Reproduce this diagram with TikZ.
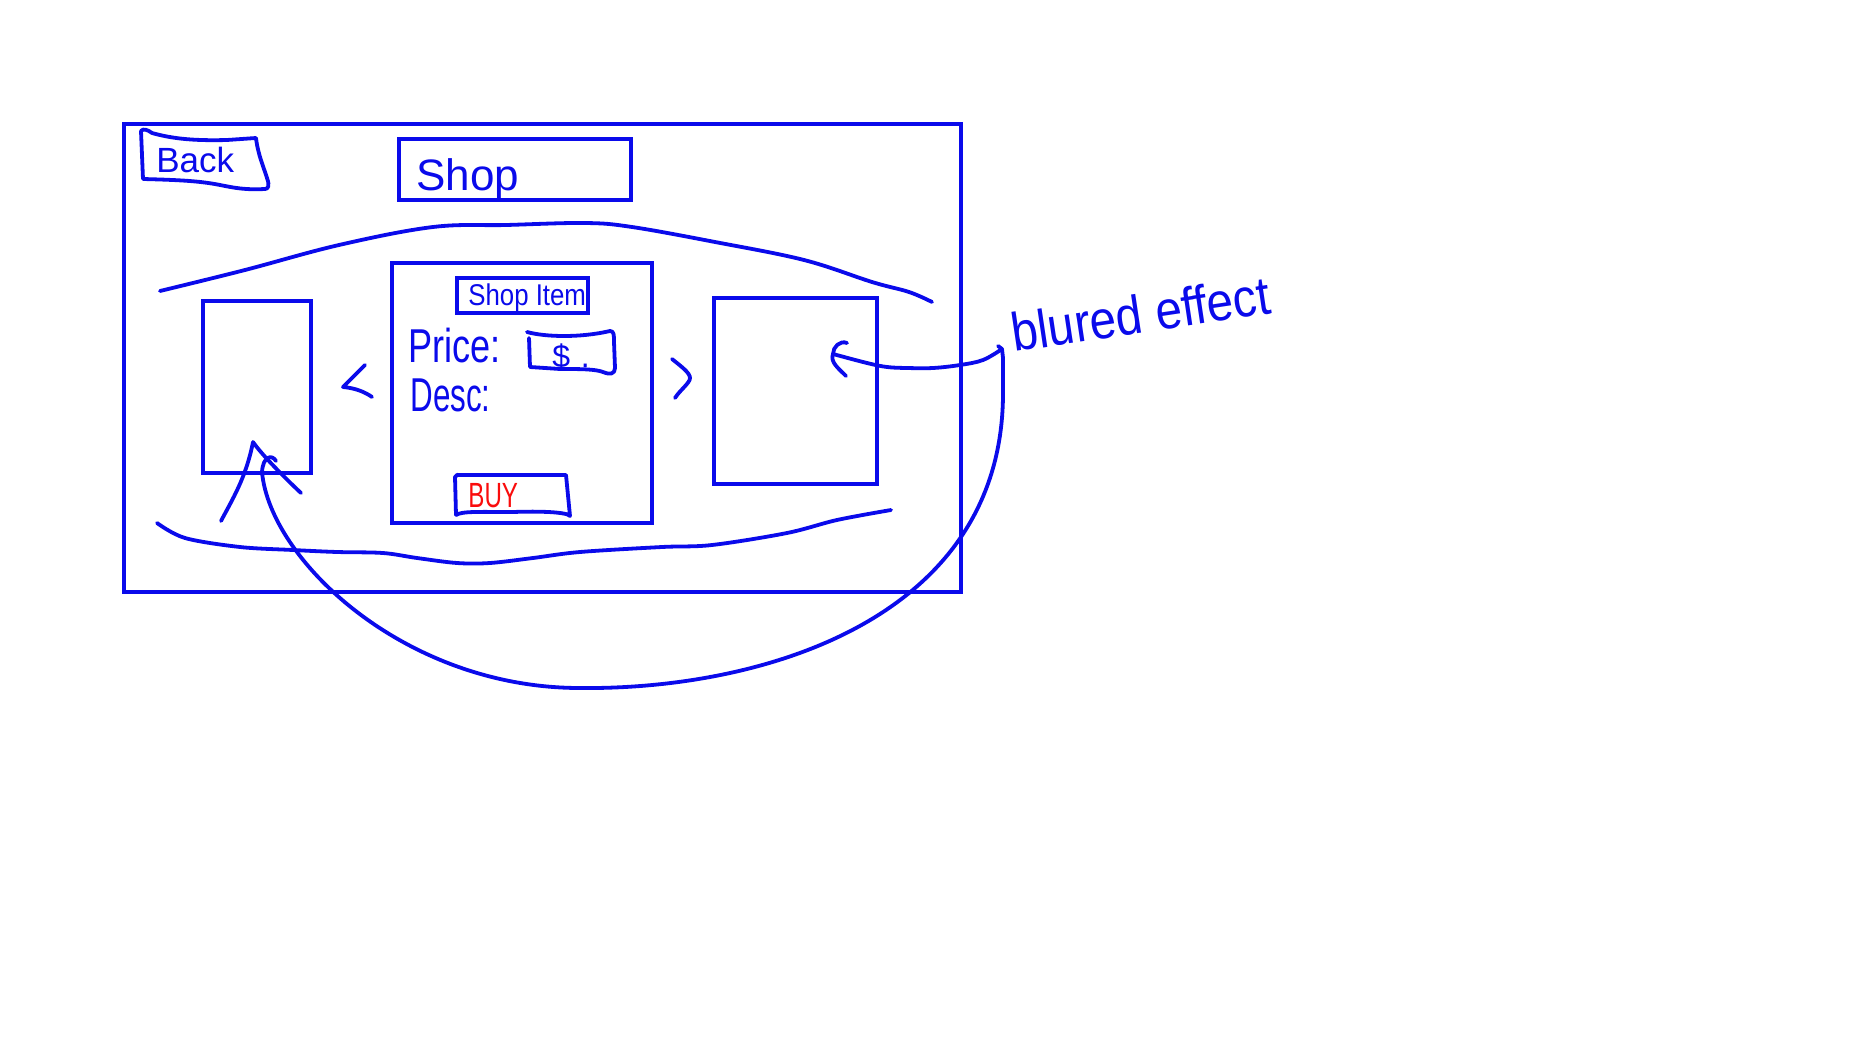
\documentclass[tikz,border=0pt]{standalone}
\usepackage{fontspec}
\setmainfont{Liberation Sans}
\usetikzlibrary{fit}
\definecolor{inkblue}{RGB}{10,10,235}
\definecolor{inkred}{RGB}{250,12,12}
\tikzset{
  boxline/.style={draw=inkblue, line width=1.8pt, rectangle, inner sep=0pt},
  stroke/.style={draw=inkblue, line width=1.9pt, line cap=round, line join=round},
  lbl/.style={text=inkblue, inner sep=0pt, anchor=base west},
}
\begin{document}
\begin{tikzpicture}[x=0.5pt,y=-0.5pt]
\useasboundingbox[fill=white] (0,0) rectangle (1856,1038);

% frames
\node[boxline, fit={(124,124) (961,592)}] (outer) {};
\node[boxline, fit={(399,139) (631,200)}] (shop) {};
\node[boxline, fit={(392,263) (652,523)}] (item) {};
\node[boxline, fit={(457,278) (588,313)}] (shopitem) {};
\node[boxline, fit={(203,301) (311,473)}] (leftcard) {};
\node[boxline, fit={(714,298) (877,484)}] (rightcard) {};

% hand drawn Back box
\draw[stroke] (143,179) -- (141,131) .. controls (143,128) and (148,130) .. (152,133)
  .. controls (170,138) and (190,141) .. (227,140) -- (256,138)
  .. controls (258,155) and (264,168) .. (267,178) .. controls (270,186) and (268,189) .. (265,189)
  .. controls (245,190) and (235,188) .. (220,185) .. controls (200,181) and (180,180) .. (143,179);

% price box
\draw[stroke] (527,332) .. controls (545,337) and (580,338) .. (610,331)
  .. controls (614,331) and (614,335) .. (614,342) -- (615,368)
  .. controls (615,374) and (610,375) .. (603,372) .. controls (595,369) and (580,369) .. (560,369)
  -- (530,367) -- (529,338);

% buy box
\draw[stroke] (456,515) -- (455,477) .. controls (456,474) and (458,475) .. (461,475) -- (566,475) -- (570,516)
  .. controls (567,512) and (540,511) .. (513,512) .. controls (480,512) and (462,511) .. (456,515);

% wavy blur lines
\draw[stroke] plot[smooth, tension=0.6] coordinates {(160,291) (245,270) (339,245) (433,227) (506,225) (585,223) (632,227) (715,242) (804,260) (872,282) (909,292) (932,302)};
\draw[stroke] plot[smooth, tension=0.55] coordinates {(157,523) (185,538) (240,547) (293,550) (337,552) (383,553) (417,558) (457,563) (490,563) (533,558) (580,552) (662,547) (712,545) (787,533) (837,520) (891,510)};

% chevrons
\draw[stroke] (365,365) -- (343,387) .. controls (355,388) and (365,392) .. (372,397);
\draw[stroke] (672,359) .. controls (682,367) and (690,373) .. (690,378) .. controls (690,383) and (680,390) .. (675,398);

% texts
\node[lbl, font=\fontsize{17.5pt}{20pt}\selectfont] (backtxt) at (156,172) {Back};
\node[lbl, font=\fontsize{22pt}{26pt}\selectfont] (shoptxt) at (416,190) {Shop};
\node[lbl, font=\fontsize{15pt}{18pt}\selectfont] (shopitemtxt) at (468,305) {\scalebox{0.86}[1]{Shop Item}};
\node[lbl, font=\fontsize{23.75pt}{28pt}\selectfont] (pricetxt) at (408,362) {\scalebox{0.76}[1]{Price:}};
\node[lbl, font=\fontsize{23.75pt}{28pt}\selectfont] (desctxt) at (410,411) {\scalebox{0.66}[1]{Desc:}};
\node[lbl, font=\fontsize{16pt}{18pt}\selectfont] (dollartxt) at (552,367) {\$\,\,.};
\node[lbl, text=inkred, font=\fontsize{17.5pt}{20pt}\selectfont] (buytxt) at (468,507) {\scalebox{0.69}[1]{BUY}};
\node[lbl, rotate=8.5, font=\fontsize{27pt}{32pt}\selectfont] (blurtxt) at (1014,352) {\scalebox{0.88}[1]{blured effect}};

% arrows
\coordinate (tipL) at (253,442);
\coordinate (hookL) at (276,461);
\coordinate (bottom) at (580,688);
\coordinate (turn) at (1002,349);
\coordinate (tipR) at (833,354);

\draw[stroke] (221,521) .. controls (232,500) and (246,478) .. (tipL) .. controls (262,455) and (285,478) .. (301,493);

\draw[stroke] (hookL) .. controls (272,454) and (263,456) .. (262,472)
  .. controls (270,560) and (405,688) .. (bottom)
  .. controls (760,690) and (1005,620) .. (1003,390) -- (1003,358) -- (turn);
\draw[stroke] (998,346) -- (turn);
\draw[stroke] plot[smooth, tension=0.6] coordinates {(turn) (983,360) (960,365) (933,368) (907,368) (887,367) (867,363) (tipR)};
\draw[stroke] (847,343) .. controls (840,340) and (833,347) .. (tipR) .. controls (830,362) and (838,368) .. (846,376);
\end{tikzpicture}
\end{document}
